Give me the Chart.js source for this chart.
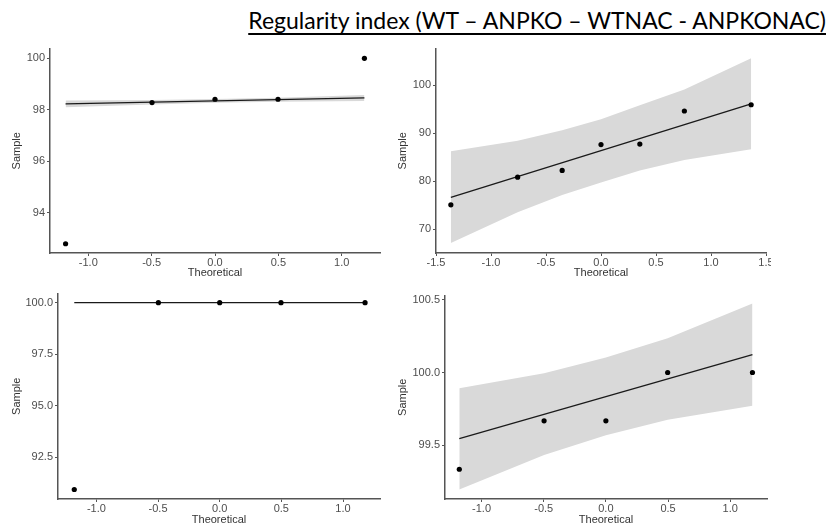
<!DOCTYPE html>
<html>
<head>
<meta charset="utf-8">
<script src="https://cdn.jsdelivr.net/npm/chart.js@4.4.1/dist/chart.umd.min.js"></script>
<style>
  html, body { margin: 0; padding: 0; background: #fff; }
  body { width: 830px; height: 526px; position: relative; overflow: hidden; }
  #titulo {
    position: absolute; right: 4px; top: 6px;
    font-family: Lato, "Open Sans", sans-serif; font-size: 23px; color: #000;
    text-decoration: underline; text-underline-offset: 4px; white-space: nowrap;
  }
  .panel { position: absolute; overflow: hidden; }
  .panel canvas { position: absolute; left: 0; top: 0; }
</style>
</head>
<body>
<div id="titulo">Regularity index (WT – ANPKO – WTNAC - ANPKONAC)</div>
<div class="panel" id="p1"><canvas id="c1"></canvas></div>
<div class="panel" id="p2"><canvas id="c2"></canvas></div>
<div class="panel" id="p3"><canvas id="c3"></canvas></div>
<div class="panel" id="p4"><canvas id="c4"></canvas></div>
<script>
// cuantiles teoricos (n = 5 y n = 7)
const theo5 = [-1.179, -0.497, 0, 0.497, 1.179];
const theo7 = [-1.365, -0.758, -0.353, 0, 0.353, 0.758, 1.365];

// WT
const wtSample = [92.79, 98.28, 98.41, 98.41, 100];
const wtLine = [98.23, 98.46];
const wtBandHi = [98.36, 98.38, 98.42, 98.47, 98.58];
const wtBandLo = [98.10, 98.21, 98.27, 98.31, 98.34];

// ANPKO
const anpkoSample = [75.05, 80.8, 82.2, 87.6, 87.7, 94.6, 95.9];
const anpkoLine = [76.6, 96.1];
const anpkoBandHi = [86.2, 88.4, 90.6, 92.9, 95.8, 99.1, 105.6];
const anpkoBandLo = [67.1, 73.5, 77.1, 79.7, 82.2, 84.4, 86.6];

// WTNAC
const wtnacSample = [90.94, 100, 100, 100, 100];
const wtnacLine = [100, 100];

// ANPKONAC
const anpkonacSample = [99.333, 99.667, 99.667, 100, 100];
const anpkonacLine = [99.545, 100.124];
const anpkonacBandHi = [99.892, 99.995, 100.103, 100.236, 100.476];
const anpkonacBandLo = [99.193, 99.432, 99.568, 99.674, 99.770];

// ticks
const xTicks12 = [-1, -0.5, 0, 0.5, 1];
const xLabels12 = ['-1.0', '-0.5', '0.0', '0.5', '1.0'];
const xTicks15 = [-1.5, -1, -0.5, 0, 0.5, 1, 1.5];
const xLabels15 = ['-1.5', '-1.0', '-0.5', '0.0', '0.5', '1.0', '1.5'];
const wtTicks = [94, 96, 98, 100];
const wtLabels = ['94', '96', '98', '100'];
const anpkoTicks = [70, 80, 90, 100];
const anpkoLabels = ['70', '80', '90', '100'];
const wtnacTicks = [92.5, 95, 97.5, 100];
const wtnacLabels = ['92.5', '95.0', '97.5', '100.0'];
const anpkonacTicks = [99.5, 100, 100.5];
const anpkonacLabels = ['99.5', '100.0', '100.5'];

const pares = (xs, ys) => xs.map((x, i) => ({ x: x, y: ys[i] }));

let crearPanel = (p) => {
  const caja = document.getElementById(p.caja);
  caja.style.left = p.left + 'px';
  caja.style.top = p.top + 'px';
  caja.style.width = (p.clip || p.width) + 'px';
  caja.style.height = p.height + 'px';
  const cv = document.getElementById(p.canvas);
  cv.width = p.width;
  cv.height = p.height;

  const n = p.theo.length;
  const datasets = [
    { data: pares(p.theo, p.sample), showLine: false, pointRadius: 2.6,
      pointBackgroundColor: '#000', pointBorderWidth: 0 },
    { data: pares([p.theo[0], p.theo[n - 1]], p.line), showLine: true,
      borderColor: '#1a1a1a', borderWidth: 1.3, pointRadius: 0 }
  ];
  if (p.hi) {
    datasets.push({ data: pares(p.theo, p.hi), showLine: true, borderWidth: 0,
      borderColor: 'rgba(0,0,0,0)', pointRadius: 0, fill: '+1', backgroundColor: '#d9d9d9' });
    datasets.push({ data: pares(p.theo, p.lo), showLine: true, borderWidth: 0,
      borderColor: 'rgba(0,0,0,0)', pointRadius: 0, fill: false });
  }

  const fuente = { family: '"Liberation Sans", Arial, sans-serif', size: 11 };
  const ejeComun = {
    type: 'linear',
    border: { display: true, color: '#555', width: 1.5 },
    grid: { display: true, drawOnChartArea: false, drawTicks: true, tickLength: 3, color: '#555', lineWidth: 1 },
    title: { display: true, color: '#333', font: fuente, padding: { top: 4, bottom: 4 } }
  };

  return new Chart(cv, {
    type: 'scatter',
    data: { datasets },
    options: {
      responsive: false,
      animation: false,
      layout: { padding: { top: 5, right: p.padRight, bottom: 0, left: 0 } },
      plugins: { legend: { display: false }, tooltip: { enabled: false } },
      scales: {
        x: Object.assign({}, ejeComun, {
          min: p.xMin, max: p.xMax,
          title: Object.assign({}, ejeComun.title, { text: 'Theoretical' }),
          ticks: { color: '#4d4d4d', font: fuente, padding: 0, maxRotation: 0, autoSkip: false,
            callback: (v, i) => p.xLabels[i] },
          afterBuildTicks: s => { s.ticks = p.xTicks.map(v => ({ value: v })); },
          afterFit: s => { s.height = p.xh; }
        }),
        y: Object.assign({}, ejeComun, {
          min: p.yMin, max: p.yMax,
          title: Object.assign({}, ejeComun.title, { text: 'Sample' }),
          ticks: { color: '#4d4d4d', font: fuente, padding: 2,
            callback: (v, i) => p.yLabels[i] },
          afterBuildTicks: s => { s.ticks = p.yTicks.map(v => ({ value: v })); },
          afterFit: s => { s.width = p.yw; }
        })
      }
    }
  });
};

crearPanel({ caja: 'p1', canvas: 'c1', left: 6, top: 40, width: 394, height: 244,
  yw: 44, xh: 31, padRight: 20,
  xMin: -1.302, xMax: 1.302, yMin: 92.43, yMax: 100.38,
  theo: theo5, sample: wtSample, line: wtLine, hi: wtBandHi, lo: wtBandLo,
  xTicks: xTicks12, xLabels: xLabels12, yTicks: wtTicks, yLabels: wtLabels });

crearPanel({ caja: 'p2', canvas: 'c2', left: 392, top: 40, width: 430, height: 244, clip: 379,
  yw: 44, xh: 31, padRight: 56,
  xMin: -1.5, xMax: 1.5, yMin: 65.0, yMax: 107.6,
  theo: theo7, sample: anpkoSample, line: anpkoLine, hi: anpkoBandHi, lo: anpkoBandLo,
  xTicks: xTicks15, xLabels: xLabels15, yTicks: anpkoTicks, yLabels: anpkoLabels });

crearPanel({ caja: 'p3', canvas: 'c3', left: 6, top: 285, width: 394, height: 246,
  yw: 52, xh: 32, padRight: 20,
  xMin: -1.311, xMax: 1.30, yMin: 90.48, yMax: 100.44,
  theo: theo5, sample: wtnacSample, line: wtnacLine,
  xTicks: xTicks12, xLabels: xLabels12, yTicks: wtnacTicks, yLabels: wtnacLabels });

crearPanel({ caja: 'p4', canvas: 'c4', left: 392, top: 287, width: 430, height: 244,
  yw: 53, xh: 32, padRight: 55,
  xMin: -1.294, xMax: 1.296, yMin: 99.128, yMax: 100.53,
  theo: theo5, sample: anpkonacSample, line: anpkonacLine, hi: anpkonacBandHi, lo: anpkonacBandLo,
  xTicks: xTicks12, xLabels: xLabels12, yTicks: anpkonacTicks, yLabels: anpkonacLabels });
</script>
</body>
</html>
